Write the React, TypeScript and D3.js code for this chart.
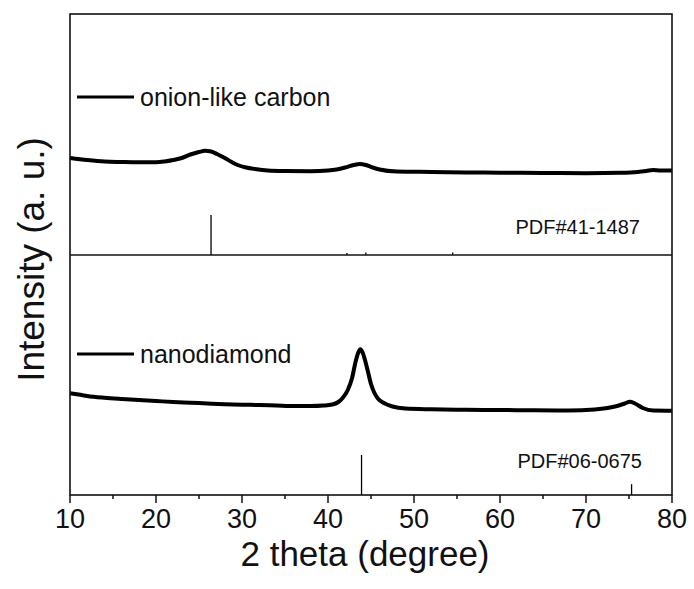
import React from "react";
import * as d3 from "d3";

// ---------- data ----------
const xTicks = [10, 20, 30, 40, 50, 60, 70, 80];
const xMinorTicks = [15, 25, 35, 45, 55, 65, 75];

// onion-like carbon pattern (2θ, intensity a.u.)
const onionTheta = [10, 12, 14, 16, 18, 20, 21, 22, 23, 24, 25, 25.7, 26.4, 27.1, 28, 28.8, 29.5, 30.5, 31.5, 33, 35, 38, 40, 41, 42, 43, 43.7, 44.4, 45.2, 46, 48, 52, 56, 60, 65, 70, 74, 76, 77, 77.8, 78.6, 80];
const onionInt = [97, 95, 93.5, 93, 92.7, 92.7, 93.5, 95, 97, 100.5, 103, 104.2, 103.5, 101, 97, 93, 90, 87.5, 86, 84.5, 84, 83.8, 84.5, 85.5, 87.5, 90, 91, 90, 87.5, 85.5, 83.5, 83, 82.5, 82.3, 82, 81.8, 82.2, 83, 84, 85, 84.6, 84.5];

// nanodiamond pattern (2θ, intensity a.u.)
const diamondTheta = [10, 11, 12, 14, 16, 18, 20, 22, 24, 26, 28, 30, 32, 34, 36, 38, 39.5, 40.5, 41.2, 41.7, 42.3, 42.8, 43.2, 43.5, 43.75, 44.0, 44.3, 44.6, 45.0, 45.4, 45.8, 46.5, 47.5, 49, 52, 56, 60, 64, 68, 71, 72.5, 73.6, 74.5, 75.1, 75.7, 76.6, 77.8, 80];
const diamondInt = [101.7, 100.5, 99, 97.2, 96, 95, 94, 93, 92.3, 91.5, 90.8, 90.3, 90, 89.5, 89, 89, 89.5, 90.5, 93, 97, 105, 117, 133, 142, 145.7, 143, 135, 125, 111, 102, 96.5, 92, 88.5, 86.5, 85.7, 85.2, 85, 84.7, 84.5, 85.5, 87, 89, 91.5, 93.3, 91.5, 87, 84.5, 84.3];

// reference patterns (position 2θ, relative intensity)
const graphitePos = [26.4, 42.2, 44.4, 54.5];
const graphiteRel = [100, 5, 6, 6];
const diamondPos = [43.9, 75.3];
const diamondRel = [100, 27];

const seriesLabels = ["onion-like carbon", "nanodiamond"];
const refLabels = ["PDF#41-1487", "PDF#06-0675"];

// ---------- layout ----------
const W = 694;
const H = 589;
const left = 70;
const right = 672;
const top = 14;
const mid = 255;
const bottom = 495;
const FONT = "'Liberation Sans', Arial, Helvetica, sans-serif";

export default function App() {
  const x = d3.scaleLinear().domain([10, 80]).range([left, right]);
  const yTop = d3.scaleLinear().domain([0, 241]).range([mid, top]);
  const yBot = d3.scaleLinear().domain([0, 240]).range([bottom, mid]);
  const stick = d3.scaleLinear().domain([0, 100]).range([0, 40]);

  const onionPts: [number, number][] = onionTheta.map((t, i) => [t, onionInt[i]]);
  const diaPts: [number, number][] = diamondTheta.map((t, i) => [t, diamondInt[i]]);

  const lineTop = d3
    .line<[number, number]>()
    .x((d) => x(d[0]))
    .y((d) => yTop(d[1]))
    .curve(d3.curveMonotoneX);
  const lineBot = d3
    .line<[number, number]>()
    .x((d) => x(d[0]))
    .y((d) => yBot(d[1]))
    .curve(d3.curveMonotoneX);

  return (
    <svg
      width={W}
      height={H}
      style={{ position: "absolute", left: 0, top: 0, background: "#fff" }}
      fontFamily={FONT}
    >
      <rect x={0} y={0} width={W} height={H} fill="#fff" />

      {/* curves */}
      <path d={lineTop(onionPts) || ""} fill="none" stroke="#000" strokeWidth={4} strokeLinejoin="round" />
      <path d={lineBot(diaPts) || ""} fill="none" stroke="#000" strokeWidth={4} strokeLinejoin="round" />

      {/* reference sticks */}
      {graphitePos.map((p, i) => (
        <line key={"g" + i} x1={x(p)} x2={x(p)} y1={mid} y2={mid - stick(graphiteRel[i])} stroke="#000" strokeWidth={1.3} />
      ))}
      {diamondPos.map((p, i) => (
        <line key={"d" + i} x1={x(p)} x2={x(p)} y1={bottom} y2={bottom - stick(diamondRel[i])} stroke="#000" strokeWidth={1.3} />
      ))}

      {/* frame */}
      <rect x={left} y={top} width={right - left} height={bottom - top} fill="none" stroke="#111" strokeWidth={1.6} />
      <line x1={left} x2={right} y1={mid} y2={mid} stroke="#111" strokeWidth={1.6} />

      {/* x ticks */}
      {xTicks.map((t) => (
        <g key={"t" + t}>
          <line x1={x(t)} x2={x(t)} y1={bottom} y2={bottom + 8} stroke="#111" strokeWidth={1.5} />
          <text x={x(t)} y={528} textAnchor="middle" fontSize={27} fill="#111">
            {t}
          </text>
        </g>
      ))}
      {xMinorTicks.map((t) => (
        <line key={"m" + t} x1={x(t)} x2={x(t)} y1={bottom} y2={bottom + 4} stroke="#111" strokeWidth={1.5} />
      ))}

      {/* axis titles */}
      <text x={(left + right) / 2 - 6} y={566} textAnchor="middle" fontSize={35} fill="#111">
        2 theta (degree)
      </text>
      <text
        transform={`translate(44, ${(top + bottom) / 2 + 5}) rotate(-90)`}
        textAnchor="middle"
        fontSize={37}
        fill="#111"
      >
        Intensity (a. u.)
      </text>

      {/* legends */}
      <line x1={77} x2={134} y1={97} y2={97} stroke="#000" strokeWidth={3} />
      <text x={140} y={106} fontSize={25} fill="#111">
        {seriesLabels[0]}
      </text>
      <line x1={77} x2={134} y1={354} y2={354} stroke="#000" strokeWidth={3} />
      <text x={140} y={363} fontSize={25} fill="#111">
        {seriesLabels[1]}
      </text>

      {/* reference labels */}
      <text x={640} y={234} textAnchor="end" fontSize={20} fill="#111">
        {refLabels[0]}
      </text>
      <text x={642} y={468} textAnchor="end" fontSize={20} fill="#111">
        {refLabels[1]}
      </text>
    </svg>
  );
}
